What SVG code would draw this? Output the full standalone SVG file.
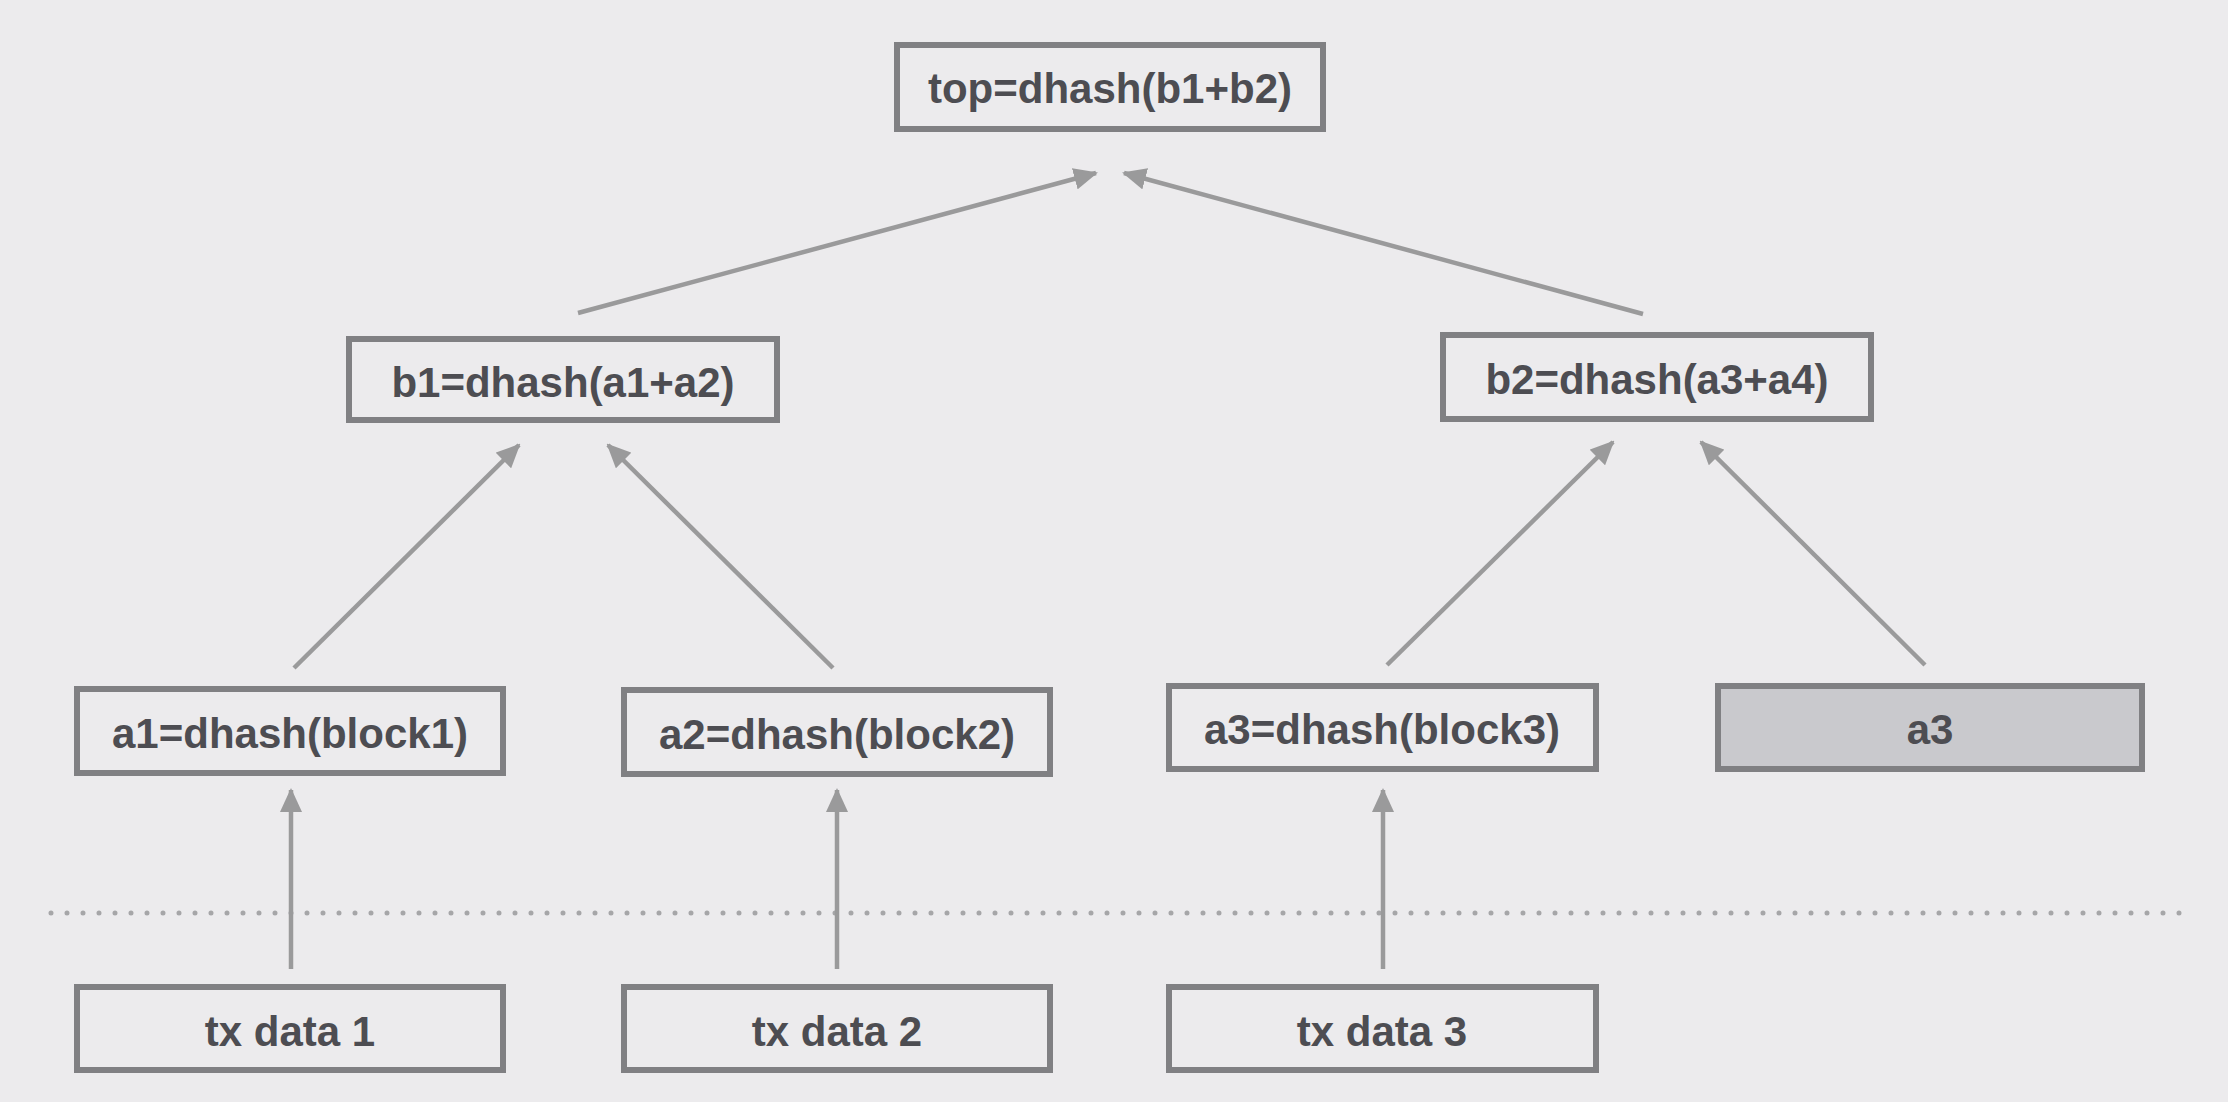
<svg xmlns="http://www.w3.org/2000/svg" width="2228" height="1102" viewBox="0 0 2228 1102">
  <defs>
    <marker id="ah" markerUnits="userSpaceOnUse" markerWidth="24" markerHeight="22" refX="22" refY="11" orient="auto">
      <path d="M0,0 L24,11 L0,22 Z" fill="#9a9a9b"/>
    </marker>
    <style>
      .box { fill: none; stroke: #808083; stroke-width: 6; }
      .gray { fill: #c9c9cd; stroke: #808083; stroke-width: 6; }
      .lbl { font-family: "Liberation Sans", Arial, sans-serif; font-weight: bold; font-size: 42px; fill: #4d4d52; text-anchor: middle; }
      .conn { stroke: #9a9a9b; stroke-width: 4.5; fill: none; marker-end: url(#ah); }
      .dots { stroke: #a6a6a8; stroke-width: 5; stroke-linecap: round; stroke-dasharray: 0 16; fill: none; }
    </style>
  </defs>
  <rect width="2228" height="1102" fill="#ecebed"/>

  <line class="dots" x1="51" y1="913" x2="2181" y2="913"/>

  <g id="connectors">
    <line class="conn" x1="578" y1="313" x2="1096" y2="173"/>
    <line class="conn" x1="1643" y1="314" x2="1124" y2="173"/>
    <line class="conn" x1="294" y1="668" x2="519" y2="445"/>
    <line class="conn" x1="833" y1="668" x2="608" y2="445"/>
    <line class="conn" x1="1387" y1="665" x2="1613" y2="442"/>
    <line class="conn" x1="1925" y1="665" x2="1701" y2="442"/>
    <line class="conn" x1="291" y1="969" x2="291" y2="790"/>
    <line class="conn" x1="837" y1="969" x2="837" y2="790"/>
    <line class="conn" x1="1383" y1="969" x2="1383" y2="790"/>
  </g>

  <g id="top">
    <rect class="box" x="897" y="45" width="426" height="84"/>
    <text class="lbl" x="1110" y="103">top=dhash(b1+b2)</text>
  </g>
  <g id="b1">
    <rect class="box" x="349" y="339" width="428" height="81"/>
    <text class="lbl" x="563" y="397">b1=dhash(a1+a2)</text>
  </g>
  <g id="b2">
    <rect class="box" x="1443" y="335" width="428" height="84"/>
    <text class="lbl" x="1657" y="394">b2=dhash(a3+a4)</text>
  </g>
  <g id="a1">
    <rect class="box" x="77" y="689" width="426" height="84"/>
    <text class="lbl" x="290" y="748">a1=dhash(block1)</text>
  </g>
  <g id="a2">
    <rect class="box" x="624" y="690" width="426" height="84"/>
    <text class="lbl" x="837" y="749">a2=dhash(block2)</text>
  </g>
  <g id="a3">
    <rect class="box" x="1169" y="686" width="427" height="83"/>
    <text class="lbl" x="1382" y="744">a3=dhash(block3)</text>
  </g>
  <g id="a3-copy">
    <rect class="gray" x="1718" y="686" width="424" height="83"/>
    <text class="lbl" x="1930" y="744">a3</text>
  </g>
  <g id="tx1">
    <rect class="box" x="77" y="987" width="426" height="83"/>
    <text class="lbl" x="290" y="1046">tx data 1</text>
  </g>
  <g id="tx2">
    <rect class="box" x="624" y="987" width="426" height="83"/>
    <text class="lbl" x="837" y="1046">tx data 2</text>
  </g>
  <g id="tx3">
    <rect class="box" x="1169" y="987" width="427" height="83"/>
    <text class="lbl" x="1382" y="1046">tx data 3</text>
  </g>
</svg>
